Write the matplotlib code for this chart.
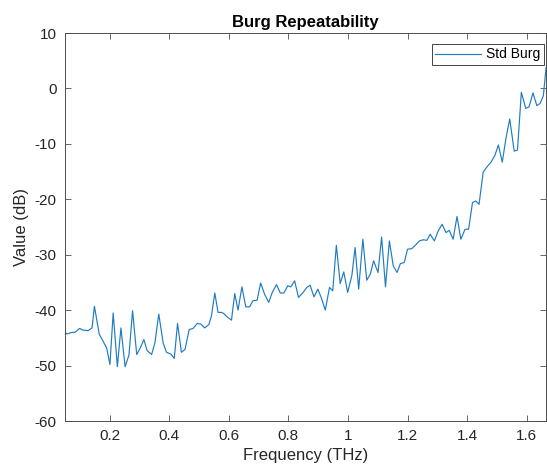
import numpy as np
import matplotlib.pyplot as plt

plt.rcParams['font.family'] = ['Liberation Sans', 'DejaVu Sans']
plt.rcParams['axes.unicode_minus'] = False

# frequency (THz) and value (dB)
freq = [0.050, 0.057, 0.074, 0.084, 0.099, 0.111, 0.128, 0.141, 0.149, 0.165,
        0.178, 0.190, 0.201, 0.212, 0.226, 0.238, 0.252, 0.265, 0.277, 0.291,
        0.303, 0.315, 0.326, 0.341, 0.352, 0.365, 0.380, 0.391, 0.405, 0.417,
        0.428, 0.441, 0.453, 0.467, 0.480, 0.494, 0.506, 0.519, 0.533, 0.542,
        0.553, 0.564, 0.575, 0.583, 0.594, 0.609, 0.620, 0.631, 0.644, 0.657,
        0.670, 0.681, 0.695, 0.707, 0.720, 0.734, 0.746, 0.760, 0.773, 0.785,
        0.798, 0.808, 0.821, 0.834, 0.848, 0.862, 0.873, 0.886, 0.899, 0.910,
        0.924, 0.938, 0.949, 0.961, 0.974, 0.986, 0.999, 1.013, 1.024, 1.036,
        1.050, 1.063, 1.075, 1.086, 1.101, 1.113, 1.126, 1.139, 1.152, 1.165,
        1.176, 1.189, 1.200, 1.214, 1.226, 1.240, 1.253, 1.265, 1.276, 1.290,
        1.303, 1.316, 1.329, 1.340, 1.353, 1.366, 1.379, 1.393, 1.405, 1.418,
        1.429, 1.440, 1.454, 1.466, 1.480, 1.493, 1.505, 1.518, 1.530, 1.543,
        1.558, 1.569, 1.582, 1.597, 1.608, 1.621, 1.634, 1.645, 1.656, 1.665]

std_burg = [-44.0, -44.3, -44.0, -44.0, -43.3, -43.6, -43.7, -43.2, -39.3, -44.3,
            -45.6, -46.8, -49.8, -40.5, -50.2, -43.2, -50.2, -48.1, -40.1, -48.0,
            -46.8, -45.3, -47.3, -48.0, -45.9, -40.7, -46.0, -47.6, -47.9, -48.7,
            -42.4, -47.6, -47.1, -43.5, -43.3, -42.4, -42.5, -43.2, -42.6, -41.0,
            -36.9, -40.4, -40.4, -40.6, -41.2, -41.8, -37.0, -40.0, -35.8, -39.4,
            -39.4, -38.3, -38.2, -35.1, -37.1, -38.6, -36.8, -35.4, -36.9, -36.9,
            -35.6, -35.8, -34.7, -37.7, -36.9, -35.9, -35.5, -37.6, -36.2, -37.7,
            -40.0, -35.9, -36.5, -28.3, -35.2, -33.1, -36.8, -33.8, -28.7, -36.2,
            -27.2, -34.6, -33.5, -31.1, -33.2, -26.8, -35.8, -27.5, -32.0, -33.2,
            -31.6, -31.4, -29.0, -28.9, -28.3, -27.5, -27.3, -27.4, -26.3, -27.5,
            -25.7, -24.5, -26.0, -25.6, -27.2, -23.1, -27.2, -25.4, -25.4, -20.6,
            -20.3, -20.9, -15.1, -14.2, -13.3, -12.1, -10.2, -13.3, -9.1, -5.5,
            -11.3, -11.1, -0.7, -3.6, -3.3, -0.8, -3.1, -2.7, -1.3, 3.8]

x_ticks = [0.2, 0.4, 0.6, 0.8, 1.0, 1.2, 1.4, 1.6]
x_tick_labels = ['0.2', '0.4', '0.6', '0.8', '1', '1.2', '1.4', '1.6']
y_ticks = [-60, -50, -40, -30, -20, -10, 0, 10]

fig = plt.figure(figsize=(5.47, 4.68), dpi=100)
ax = fig.add_axes([0.1187, 0.1004, 0.8796, 0.829])

ax.plot(freq, std_burg, color='#1f7cc2', linewidth=0.85, label='Std Burg')

ax.set_xlim(0.05, 1.665)
ax.set_ylim(-60, 10)
ax.set_xticks(x_ticks)
ax.set_xticklabels(x_tick_labels)
ax.set_yticks(y_ticks)

ax.tick_params(direction='in', length=4, width=0.6, colors='#4d4d4d',
               labelcolor='#262626', labelsize=11, top=True, right=True, pad=6)
for sp in ax.spines.values():
    sp.set_color('#4d4d4d')
    sp.set_linewidth(0.7)

ax.set_xlabel('Frequency (THz)', fontsize=12, color='#262626', labelpad=3)
ax.set_ylabel('Value (dB)', fontsize=12, color='#262626', labelpad=4)
ax.set_title('Burg Repeatability', fontsize=12, fontweight='bold', color='#000000', pad=4)

leg = ax.legend(loc='upper right', fontsize=10, fancybox=False, framealpha=1,
                edgecolor='#262626', borderpad=0.25, handlelength=3.3,
                handletextpad=0.4, borderaxespad=0.0,
                bbox_to_anchor=(0.996, 0.972))
leg.get_frame().set_linewidth(0.6)

fig.savefig('out.png', dpi=100)
